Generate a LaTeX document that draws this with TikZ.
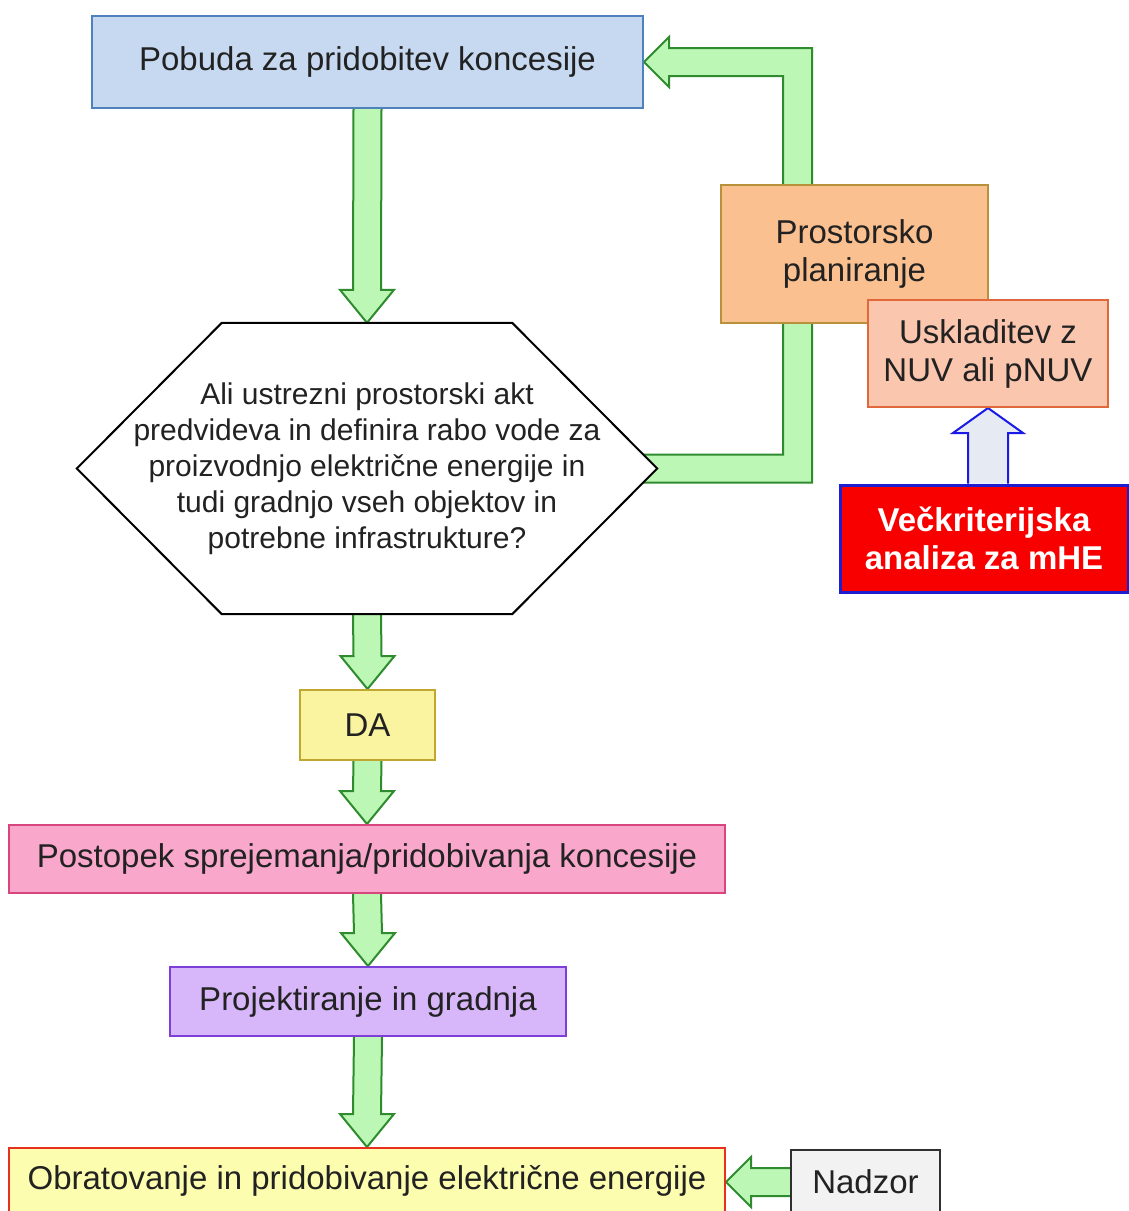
\documentclass[tikz,border=0pt]{standalone}
\usepackage{fontspec}
\setmainfont{Liberation Sans}
\usetikzlibrary{calc}
\pgfdeclarelayer{back}
\pgfdeclarelayer{mid}
\pgfsetlayers{back,mid,main}
\definecolor{txt}{HTML}{222222}
\definecolor{pobF}{HTML}{C6D9F1}
\definecolor{pobD}{HTML}{4F81BD}
\definecolor{gF}{HTML}{BDF7B5}
\definecolor{gD}{HTML}{2E8B2E}
\definecolor{prF}{HTML}{FAC090}
\definecolor{prD}{HTML}{B8923A}
\definecolor{usF}{HTML}{FBC6AE}
\definecolor{usD}{HTML}{E0683A}
\definecolor{veF}{HTML}{F80000}
\definecolor{veD}{HTML}{1E1ED0}
\definecolor{bF}{HTML}{E6EAF2}
\definecolor{bD}{HTML}{1A1AE6}
\definecolor{daF}{HTML}{FAF3A0}
\definecolor{daD}{HTML}{C0A830}
\definecolor{poF}{HTML}{F9A8CC}
\definecolor{poD}{HTML}{D8457F}
\definecolor{pjF}{HTML}{D7B6F9}
\definecolor{pjD}{HTML}{7E3FD9}
\definecolor{obF}{HTML}{FDFDB0}
\definecolor{obD}{HTML}{E83020}
\definecolor{naF}{HTML}{F2F2F2}
\definecolor{naD}{HTML}{303030}
\newcommand\greendown[2]{%
  \draw[garrow] ($(#1.south)+(-14,0)$) -- ($(#2.north)+(-14,-33)$) -- ($(#2.north)+(-27,-33)$) -- (#2.north) -- ($(#2.north)+(27,-33)$) -- ($(#2.north)+(14,-33)$) -- ($(#1.south)+(14,0)$);}
\begin{document}
\begin{tikzpicture}[x=1pt,y=-1pt,
  box/.style={draw, line width=2pt, inner sep=0pt, align=center, text=txt, font=\fontsize{33}{38}\selectfont},
  garrow/.style={draw=gD, fill=gF, line width=2pt, line join=miter},
  barrow/.style={draw=bD, fill=bF, line width=2pt, line join=miter}]
\useasboundingbox (0,0) rectangle (1128,1211);

\node[box, fill=pobF, draw=pobD, minimum width=551pt, minimum height=92pt] (pobuda) at (367.5,62) {Pobuda za pridobitev koncesije};
\node[inner sep=0pt, align=center, text=txt, font=\fontsize{30}{36}\selectfont, minimum width=580pt, minimum height=291pt] (hex) at (367,468.5) {Ali ustrezni prostorski akt\\predvideva in definira rabo vode za\\proizvodnjo električne energije in\\tudi gradnjo vseh objektov in\\potrebne infrastrukture?};
\node[box, fill=daF, draw=daD, minimum width=135pt, minimum height=70pt] (da) at (367.5,725) {DA};
\node[box, fill=poF, draw=poD, minimum width=716pt, minimum height=68pt] (post) at (367,859) {Postopek sprejemanja/pridobivanja koncesije};
\node[box, fill=pjF, draw=pjD, minimum width=396pt, minimum height=69pt] (proj) at (368,1001.5) {Projektiranje in gradnja};
\node[box, fill=obF, draw=obD, minimum width=716pt, minimum height=66pt] (obrat) at (367,1181) {Obratovanje in pridobivanje električne energije};
\node[box, fill=naF, draw=naD, minimum width=149pt, minimum height=64pt] (nadzor) at (865.5,1182) {Nadzor};
\node[box, fill=prF, draw=prD, minimum width=267pt, minimum height=138pt] (prost) at (854.5,254) {Prostorsko\\planiranje};
\node[box, fill=usF, draw=usD, minimum width=240pt, minimum height=107pt] (usk) at (988,353.5) {Uskladitev z\\NUV ali pNUV};
\node[box, fill=veF, draw=veD, line width=3pt, text=white, font=\fontsize{33}{38}\selectfont\bfseries, minimum width=288pt, minimum height=107pt] (vec) at (984,538.5) {Večkriterijska\\analiza za mHE};

\begin{pgfonlayer}{mid}
\draw[line width=2pt, fill=white, line join=miter] (hex.west) -- ($(hex.north west)+(145,0)$) -- ($(hex.north east)+(-145,0)$) -- (hex.east) -- ($(hex.south east)+(-145,0)$) -- ($(hex.south west)+(145,0)$) -- cycle;
\end{pgfonlayer}

\begin{pgfonlayer}{back}
\greendown{pobuda}{hex}
\greendown{hex}{da}
\greendown{da}{post}
\greendown{post}{proj}
\greendown{proj}{obrat}
\coordinate (fbR) at ($(hex.east)+(155,0)$);
\coordinate (fbI) at ($(hex.east)+(126,0)$);
\coordinate (fbTop) at ($(pobuda.east)+(0,-14)$);
\coordinate (fbBot) at ($(pobuda.east)+(0,14)$);
\draw[garrow] ($(hex.east)+(-40,14)$) -- ($(hex.east)+(155,14)$) -- (fbR |- fbTop) -- ($(pobuda.east)+(25,-14)$) -- ($(pobuda.east)+(25,-25)$) -- (pobuda.east) -- ($(pobuda.east)+(25,25)$) -- ($(pobuda.east)+(25,14)$) -- (fbI |- fbBot) -- ($(hex.east)+(126,-14)$) -- ($(hex.east)+(-40,-14)$);
\coordinate (nt) at (obrat.east |- nadzor.west);
\draw[garrow] ($(nadzor.west)+(0,-14)$) -- ($(nt)+(25,-14)$) -- ($(nt)+(25,-25)$) -- (nt) -- ($(nt)+(25,25)$) -- ($(nt)+(25,14)$) -- ($(nadzor.west)+(0,14)$);
\coordinate (bb) at (usk.south |- vec.north);
\draw[barrow] ($(bb)+(-20,0)$) -- ($(usk.south)+(-20,25)$) -- ($(usk.south)+(-35,25)$) -- (usk.south) -- ($(usk.south)+(35,25)$) -- ($(usk.south)+(20,25)$) -- ($(bb)+(20,0)$);
\end{pgfonlayer}
\end{tikzpicture}
\end{document}
